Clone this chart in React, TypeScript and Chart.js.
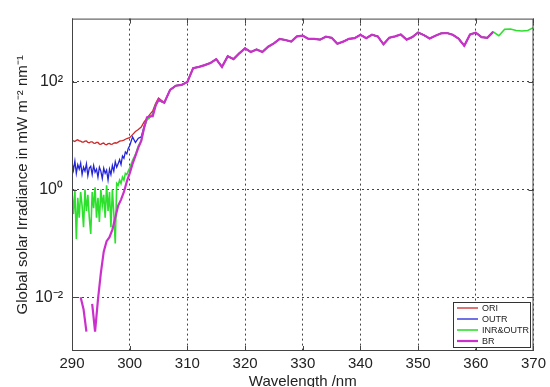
import React, { useEffect, useRef } from "react";
import { Chart, registerables } from "chart.js";
Chart.register(...registerables);

// ---- data ----
const lowWl = [290, 290.25, 290.5, 290.75, 291, 291.25, 291.5, 291.75, 292, 292.25, 292.5, 292.75, 293, 293.25, 293.5, 293.75, 294, 294.25, 294.5, 294.75, 295, 295.25, 295.5, 295.75, 296, 296.25, 296.5, 296.75, 297, 297.25, 297.5, 297.75, 298, 298.25, 298.5, 298.75, 299, 299.25, 299.5, 299.75, 300, 300.5, 301, 301.5, 302, 302.5, 303, 303.5, 304, 304.5, 305];
const oriLow = [8.3, 8.0, 7.8, 8.2, 8.4, 8.0, 7.9, 7.6, 7.6, 7.9, 8.0, 7.5, 7.4, 7.7, 7.7, 7.3, 7.2, 7.5, 7.5, 7.0, 6.9, 7.2, 7.3, 6.9, 6.8, 7.1, 7.2, 6.9, 7.0, 7.3, 7.4, 7.3, 7.6, 7.9, 8.0, 8.1, 8.3, 8.6, 8.8, 9.0, 9.2, 10.5, 12, 13, 14.5, 18, 21, 25, 29, 40, 50];
const outrLow = [3.2, 2.3, 3.4, 2.0, 2.9, 2.4, 3.1, 1.9, 2.6, 2.2, 3.0, 1.8, 2.5, 2.7, 1.9, 2.8, 2.1, 2.4, 1.7, 2.6, 2.2, 1.6, 2.5, 2.0, 2.3, 1.5, 2.4, 1.9, 2.8, 2.2, 3.3, 2.6, 3.0, 3.6, 2.9, 4.2, 3.8, 5.0, 4.6, 5.8, 6.5, 9.5, 7.5, 9.0, 9.5, 15, 20, 22, 25, 38, 45];
const inrLow = [0.9, 0.35, 1.0, 0.12, 0.7, 0.3, 0.9, 0.5, 0.2, 1.0, 0.4, 0.8, 0.3, 0.15, 0.9, 0.45, 1.1, 0.3, 0.7, 0.25, 1.0, 0.5, 0.8, 0.3, 1.2, 0.4, 0.9, 0.2, 1.0, 0.35, 0.1, 1.3, 1.2, 1.5, 1.3, 1.7, 1.5, 2.0, 1.9, 2.2, 2.5, 3.5, 4.5, 6.5, 8, 14, 20, 22, 24, 38, 45];

const brWl = [290, 290.5, 291, 291.5, 292, 292.5, 293, 293.5, 294, 294.5, 295, 295.5, 296, 296.5, 297, 297.5, 298, 298.5, 299, 299.5, 300, 300.5, 301, 301.5, 302, 302.5, 303, 303.5, 304, 304.5, 305];
const brLow = [null, null, null, 0.01, 0.006, 0.0023, null, 0.0075, 0.0023, 0.009, 0.028, 0.07, 0.11, 0.13, 0.18, 0.3, 0.5, 0.65, 0.9, 1.4, 2.0, 3.0, 4.2, 6.0, 8, 14, 22, 23, 23, 36, 47];

const highWl = [306, 307, 308, 309, 310, 311, 312, 313, 314, 315, 316, 317, 318, 319, 320, 321, 322, 323, 324, 325, 326, 327, 328, 329, 330, 331, 332, 333, 334, 335, 336, 337, 338, 339, 340, 341, 342, 343, 344, 345, 346, 347, 348, 349, 350, 351, 352, 353, 354, 355, 356, 357, 358, 359, 360, 361, 362, 363, 364, 365, 366, 367, 368, 369, 370];
const commonHigh = [41, 71, 85, 88, 100, 180, 190, 205, 225, 265, 190, 300, 265, 340, 420, 360, 400, 360, 450, 520, 630, 600, 560, 700, 720, 630, 630, 610, 690, 660, 510, 560, 630, 650, 750, 650, 750, 700, 500, 660, 700, 760, 610, 680, 830, 740, 640, 720, 800, 810, 750, 640, 470, 760, 820, 680, 660, 850, 720, 950, 960, 900, 880, 900, 1020];

const seriesNames = ["ORI", "OUTR", "INR&OUTR", "BR"];
const seriesColors = ["#cc2a2a", "#2424d8", "#2ee02e", "#cc30cc"];
const seriesWidths = [1.3, 1.3, 1.6, 2.2];
const seriesEnd = [363, 363, 370, 363];

const xTicks = [290, 300, 310, 320, 330, 340, 350, 360, 370];
const yTickValues = [0.01, 1, 100];
const yTickLabels = ["10⁻²", "10⁰", "10²"];

const FONT = "'Liberation Sans', Arial, Helvetica, sans-serif";

function buildSeries(wl: number[], low: (number | null)[], end: number) {
  const pts: { x: number; y: number | null }[] = [];
  wl.forEach((w, i) => pts.push({ x: w, y: low[i] }));
  highWl.forEach((w, i) => {
    if (w <= end) pts.push({ x: w, y: commonHigh[i] });
  });
  return pts;
}

const framePlugin = {
  id: "frame",
  afterDatasetsDraw(chart: any) {
    const { ctx, chartArea: a, scales } = chart;
    ctx.save();
    ctx.strokeStyle = "#444";
    ctx.lineWidth = 1;
    ctx.setLineDash([]);
    ctx.strokeRect(a.left + 0.5, a.top + 0.5, a.right - a.left - 1, a.bottom - a.top - 1);
    ctx.beginPath();
    xTicks.forEach((v) => {
      const px = Math.round(scales.x.getPixelForValue(v)) + 0.5;
      ctx.moveTo(px, a.bottom);
      ctx.lineTo(px, a.bottom - 5);
      ctx.moveTo(px, a.top);
      ctx.lineTo(px, a.top + 5);
    });
    yTickValues.forEach((v) => {
      const py = Math.round(scales.y.getPixelForValue(v)) + 0.5;
      ctx.moveTo(a.left, py);
      ctx.lineTo(a.left + 5, py);
      ctx.moveTo(a.right, py);
      ctx.lineTo(a.right - 5, py);
    });
    ctx.stroke();

    // legend inside plot, bottom-right
    const bx = 453, by = 302, bw = 77, bh = 45;
    ctx.fillStyle = "#fff";
    ctx.fillRect(bx, by, bw, bh);
    ctx.strokeStyle = "#333";
    ctx.strokeRect(bx + 0.5, by + 0.5, bw, bh);
    ctx.font = `9px ${FONT}`;
    ctx.textBaseline = "middle";
    ctx.textAlign = "left";
    chart.data.datasets.forEach((ds: any, i: number) => {
      const y = by + 6 + i * 11;
      ctx.beginPath();
      ctx.strokeStyle = ds.borderColor;
      ctx.lineWidth = ds.borderWidth;
      ctx.moveTo(bx + 4, y);
      ctx.lineTo(bx + 25, y);
      ctx.stroke();
      ctx.fillStyle = "#222";
      ctx.fillText(ds.label, bx + 29, y + 0.5);
    });
    ctx.restore();
  },
};

export default function App() {
  const ref = useRef<HTMLCanvasElement>(null);
  useEffect(() => {
    if (!ref.current) return;
    const sources: [number[], (number | null)[]][] = [
      [lowWl, oriLow],
      [lowWl, outrLow],
      [lowWl, inrLow],
      [brWl, brLow],
    ];
    const datasets = seriesNames.map((name, i) => ({
      label: name,
      data: buildSeries(sources[i][0], sources[i][1], seriesEnd[i]),
      borderColor: seriesColors[i],
      backgroundColor: seriesColors[i],
      borderWidth: seriesWidths[i],
      pointRadius: 0,
      tension: 0,
      spanGaps: false,
      order: 4 - i,
    }));
    const chart = new Chart(ref.current, {
      type: "line",
      data: { datasets },
      options: {
        animation: false,
        responsive: false,
        events: [],
        layout: { padding: { left: 0, top: 13, right: 16, bottom: 0 } },
        plugins: { legend: { display: false }, tooltip: { enabled: false } },
        scales: {
          x: {
            type: "linear",
            min: 290,
            max: 370,
            afterBuildTicks: (s: any) => {
              s.ticks = xTicks.map((v) => ({ value: v }));
            },
            afterFit: (s: any) => {
              s.height = 36;
            },
            ticks: {
              font: { size: 15, family: FONT },
              color: "#222",
              padding: 4,
              maxRotation: 0,
              callback: (v: any) => String(v),
            },
            grid: { color: "#444", lineWidth: 1, drawTicks: false },
            border: { display: false, dash: [2, 3] },
            title: {
              display: true,
              text: "Wavelength /nm",
              color: "#222",
              font: { size: 15, family: FONT },
              padding: { top: 0, bottom: -4 },
            },
          },
          y: {
            type: "logarithmic",
            min: 0.001,
            max: 1500,
            afterBuildTicks: (s: any) => {
              s.ticks = yTickValues.map((v) => ({ value: v }));
            },
            afterFit: (s: any) => {
              s.width = 72;
            },
            ticks: {
              font: { size: 16, family: FONT },
              color: "#222",
              padding: 9,
              callback: (v: any) => {
                const idx = yTickValues.findIndex((t) => Math.abs(Math.log10(t) - Math.log10(v)) < 1e-6);
                return idx >= 0 ? yTickLabels[idx] : "";
              },
            },
            grid: { color: "#444", lineWidth: 1, drawTicks: false },
            border: { display: false, dash: [2, 3] },
            title: {
              display: true,
              text: "Global solar Irradiance in mW m⁻² nm⁻¹",
              color: "#222",
              font: { size: 15, family: FONT },
              padding: { top: 14, bottom: 0 },
            },
          },
        },
      },
      plugins: [framePlugin],
    });
    return () => chart.destroy();
  }, []);
  return (
    <div style={{ position: "absolute", left: 0, top: 0, width: 550, height: 387, background: "#fff" }}>
      <canvas ref={ref} width={550} height={387} />
    </div>
  );
}
